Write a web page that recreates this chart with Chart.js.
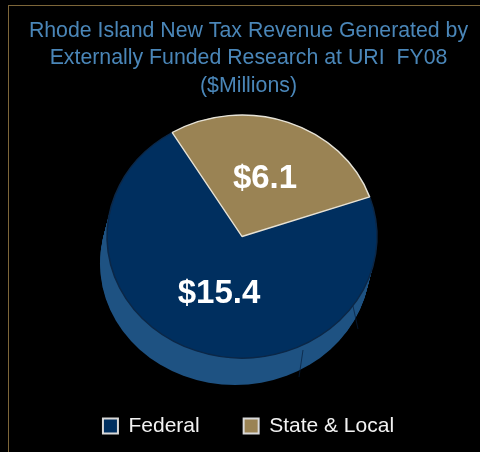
<!DOCTYPE html>
<html>
<head>
<meta charset="utf-8">
<script src="https://cdn.jsdelivr.net/npm/chart.js@4"></script>
<style>
  html, body { margin: 0; padding: 0; background: #000; }
  #wrap { position: relative; width: 480px; height: 452px; background: #000; overflow: hidden; }
  #frame { position: absolute; left: 8px; top: 5px; width: 480px; height: 460px;
           border-top: 1.5px solid #7d6639; border-left: 1.5px solid #7d6639; box-sizing: border-box; }
  canvas { position: absolute; left: 0; top: 0; }
</style>
</head>
<body>
<div id="wrap">
  <div id="frame"></div>
  <canvas id="c" width="480" height="452"></canvas>
</div>
<script>
const titleLines = ['Rhode Island New Tax Revenue Generated by', 'Externally Funded Research at URI  FY08', '($Millions)'];
const categories = ['Federal', 'State & Local'];
const values = [15.4, 6.1];
const valueLabels = ['$15.4', '$6.1'];
const sliceColors = ['#002f5f', '#9a8354'];
const sliceBorders = ['#0b2747', '#e6e2d6'];

// screen geometry of the tilted pie (top face ellipse) and its depth
const PIE = { cx: 242, cy: 236.5, rx: 135, ry: 121.5, dx: -7, dy: 27, side: '#1e5282' };

function pieTransform(ctx, arc) {
  ctx.translate(PIE.cx, PIE.cy);
  ctx.scale(PIE.rx / arc.outerRadius, PIE.ry / arc.outerRadius);
  ctx.translate(-arc.x, -arc.y);
}

const tiltPlugin = {
  id: 'tilt',
  beforeDatasetsDraw(chart) {
    const ctx = chart.ctx;
    const arc = chart.getDatasetMeta(0).data[0];
    ctx.save();
    // depth (side wall) swept under the top face
    ctx.fillStyle = PIE.side;
    const steps = 30;
    for (let i = 0; i <= steps; i++) {
      const t = i / steps;
      ctx.beginPath();
      ctx.ellipse(PIE.cx + PIE.dx * t, PIE.cy + PIE.dy * t, PIE.rx, PIE.ry, 0, 0, Math.PI * 2);
      ctx.fill();
    }
    // faint facet seams on the side wall
    ctx.strokeStyle = 'rgba(5,30,60,0.7)';
    ctx.lineWidth = 1;
    [[303, 350, 299, 377], [353, 306, 358, 329]].forEach(s => {
      ctx.beginPath(); ctx.moveTo(s[0], s[1]); ctx.lineTo(s[2], s[3]); ctx.stroke();
    });
    pieTransform(ctx, arc);
  },
  afterDatasetsDraw(chart) {
    const ctx = chart.ctx;
    ctx.restore();
    const meta = chart.getDatasetMeta(0);
    const arc0 = meta.data[0];
    ctx.save();
    ctx.fillStyle = '#ffffff';
    ctx.font = 'bold 33px "Liberation Sans", Arial, sans-serif';
    ctx.textAlign = 'center';
    ctx.textBaseline = 'middle';
    meta.data.forEach((arc, i) => {
      const p = arc.tooltipPosition();
      const x = PIE.cx + (p.x - arc0.x) * PIE.rx / arc0.outerRadius;
      const y = PIE.cy + (p.y - arc0.y) * PIE.ry / arc0.outerRadius;
      ctx.fillText(valueLabels[i], x, y);
    });
    ctx.restore();
  }
};

const baseGen = Chart.overrides.doughnut.plugins.legend.labels.generateLabels;

new Chart(document.getElementById('c'), {
  type: 'pie',
  data: {
    labels: categories,
    datasets: [{
      data: values,
      backgroundColor: sliceColors,
      borderColor: sliceBorders,
      borderWidth: 1.5
    }]
  },
  options: {
    responsive: false,
    animation: false,
    rotation: 71,
    layout: { padding: { left: 17, right: 0, top: 0, bottom: 5.4 } },
    plugins: {
      tooltip: { enabled: false },
      title: {
        display: true,
        text: titleLines,
        color: '#4a86b8',
        font: { family: '"Liberation Sans", Arial, sans-serif', size: 21.3, weight: 'normal', lineHeight: 1.27 },
        padding: { top: 18, bottom: 5 }
      },
      legend: {
        position: 'bottom',
        labels: {
          color: '#f2f2f2',
          boxWidth: 15,
          boxHeight: 15,
          padding: 44,
          font: { family: '"Liberation Sans", Arial, sans-serif', size: 21 },
          generateLabels(chart) {
            return baseGen(chart).map(l => Object.assign(l, { strokeStyle: '#d9d9d9', lineWidth: 2, fontColor: '#f2f2f2' }));
          }
        }
      }
    }
  },
  plugins: [tiltPlugin]
});
</script>
</body>
</html>
